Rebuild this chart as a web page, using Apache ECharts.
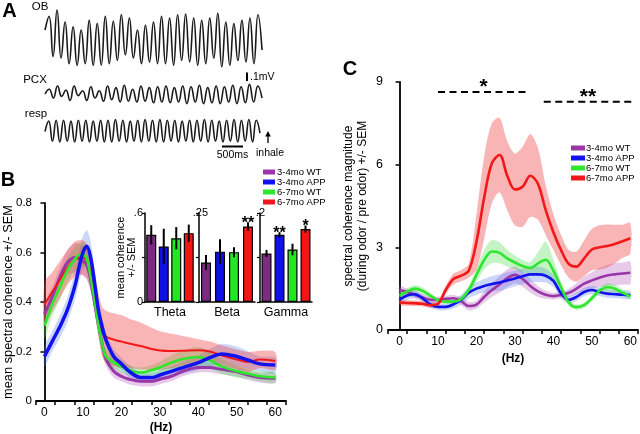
<!DOCTYPE html>
<html><head><meta charset="utf-8">
<script src="https://cdn.jsdelivr.net/npm/echarts@6/dist/echarts.min.js"></script>
<style>html,body{margin:0;padding:0;background:#fff}#c{width:640px;height:434px}</style>
</head><body><div id="c"></div>
<script>
// ---------- DATA ----------
const GROUPS = ['3-4mo WT', '3-4mo APP', '6-7mo WT', '6-7mo APP'];

// Panel A traces (extrema, mV-ish units)
const OB_TRACE = [0.1, 0.27,-0.23, 0.35,-0.25, 0.2,-0.32, 0.14,-0.34, 0.1,-0.32, 0.22,-0.34, 0.18,-0.34, 0.27,-0.32, 0.21,-0.28, 0.29,-0.21, 0.25,-0.25, 0.1,-0.32, 0.16,-0.3, 0.2,-0.32, 0.27,-0.32, 0.25,-0.34, 0.29,-0.28, 0.3,-0.3, 0.25,-0.34, 0.22,-0.32, 0.25,-0.25, 0.31,-0.36, 0.2,-0.34, 0.18,-0.28, 0.22,-0.3, 0.25,-0.32, 0.29,-0.15];
const PCX_TRACE = [0.0, 0.06,-0.05, 0.1,-0.03, 0.05,-0.08, 0.1,-0.02, 0.04,-0.08, 0.09,-0.05, 0.04,-0.09, 0.1,-0.07, 0.08,-0.1, 0.11,-0.09, 0.06,-0.1, 0.1,-0.09, 0.08,-0.11, 0.09,-0.1, 0.1,-0.11, 0.08,-0.1, 0.1,-0.12, 0.09,-0.1, 0.11,-0.12, 0.08,-0.11, 0.1,-0.12, 0.09,-0.1, 0.11,-0.12, 0.09,-0.11, 0.12,-0.1, 0.1,-0.05];
const RESP_TRACE = [0.0, 0.13,-0.12, 0.14,-0.13, 0.14,-0.12, 0.13,-0.13, 0.14,-0.12, 0.14,-0.13, 0.13,-0.12, 0.14,-0.13, 0.14,-0.13, 0.15,-0.12, 0.14,-0.13, 0.13,-0.12, 0.14,-0.13, 0.15,-0.12, 0.14,-0.13, 0.15,-0.13, 0.14,-0.12, 0.14,-0.13, 0.13,-0.12, 0.14,-0.13, 0.14,-0.12, 0.15,-0.13, 0.14,-0.12, 0.13,-0.13, 0.14,-0.12, 0.15,-0.13, 0.14,-0.12, 0.15,-0.13, 0.14,-0.02];

// Panel B: mean spectral coherence
const B_HZ = [0,2,4,6,8,9,10,11,12,13,14,15,16,18,20,22,25,28,30,33,36,40,43,46,50,53,56,60];
const B_WT34      = [0.35,0.42,0.5,0.56,0.58,0.575,0.565,0.55,0.49,0.4,0.31,0.23,0.17,0.12,0.1,0.088,0.08,0.08,0.088,0.1,0.12,0.135,0.135,0.128,0.118,0.105,0.095,0.092];
const B_WT34_SEM  = [0.04,0.04,0.04,0.05,0.06,0.06,0.06,0.06,0.05,0.04,0.03,0.03,0.03,0.025,0.02,0.02,0.02,0.02,0.02,0.02,0.02,0.02,0.02,0.02,0.02,0.02,0.02,0.02];
const B_APP34     = [0.18,0.24,0.3,0.37,0.47,0.54,0.6,0.625,0.58,0.48,0.37,0.3,0.246,0.18,0.15,0.12,0.095,0.095,0.105,0.12,0.135,0.155,0.175,0.19,0.18,0.165,0.15,0.145];
const B_APP34_SEM = [0.04,0.04,0.045,0.05,0.055,0.06,0.065,0.065,0.065,0.05,0.04,0.035,0.03,0.03,0.025,0.025,0.02,0.02,0.02,0.02,0.025,0.03,0.035,0.04,0.04,0.035,0.03,0.03];
const B_WT67      = [0.305,0.39,0.46,0.53,0.575,0.59,0.59,0.575,0.5,0.41,0.31,0.23,0.18,0.155,0.14,0.125,0.115,0.125,0.135,0.155,0.17,0.178,0.165,0.14,0.12,0.11,0.1,0.095];
const B_WT67_SEM  = [0.05,0.05,0.05,0.05,0.05,0.05,0.05,0.05,0.04,0.04,0.035,0.03,0.03,0.025,0.025,0.02,0.02,0.02,0.025,0.03,0.035,0.04,0.035,0.03,0.025,0.02,0.02,0.02];
const B_APP67     = [0.39,0.44,0.49,0.54,0.575,0.58,0.58,0.565,0.52,0.45,0.35,0.28,0.26,0.248,0.24,0.232,0.222,0.21,0.204,0.202,0.203,0.205,0.2,0.185,0.168,0.158,0.168,0.162];
const B_APP67_SEM = [0.09,0.08,0.075,0.07,0.07,0.07,0.07,0.07,0.07,0.08,0.09,0.1,0.105,0.107,0.107,0.1,0.095,0.085,0.078,0.07,0.06,0.045,0.04,0.04,0.04,0.04,0.035,0.035];

// Panel B inset: mean coherence per band
const THETA_MEAN = [0.453,0.374,0.43,0.464];  const THETA_SEM = [0.065,0.12,0.075,0.058];
const BETA_MEAN  = [0.111,0.1415,0.14,0.212]; const BETA_SEM  = [0.021,0.035,0.014,0.012];
const GAMMA_MEAN = [0.109,0.151,0.118,0.164]; const GAMMA_SEM = [0.008,0.006,0.013,0.008];
const THETA_STARS = ['','','',''];
const BETA_STARS  = ['','','','**'];
const GAMMA_STARS = ['','**','','*'];

// Panel C: coherence ratio (during odor / pre odor)
const C_HZ = [0,2,4,6,8,10,12,14,16,18,20,22,24,26,28,30,32,34,36,38,40,42,44,46,48,50,52,54,56,58,60];
const C_WT34      = [1.45,1.38,1.28,1.18,1.1,1.09,1.13,1.15,1.05,0.87,0.92,1.2,1.45,1.65,1.88,2.0,1.85,1.6,1.4,1.28,1.23,1.27,1.35,1.5,1.68,1.8,1.9,1.98,2.02,2.05,2.08];
const C_WT34_SEM  = [0.15,0.12,0.12,0.12,0.12,0.12,0.12,0.12,0.15,0.15,0.15,0.2,0.25,0.3,0.32,0.3,0.28,0.25,0.2,0.15,0.12,0.12,0.15,0.2,0.25,0.3,0.35,0.38,0.4,0.4,0.4];
const C_APP34     = [1.1,1.25,1.3,1.15,0.93,0.84,0.84,0.93,1.1,1.35,1.5,1.6,1.67,1.72,1.8,1.87,1.95,2.02,2.02,1.97,1.78,1.33,1.1,1.2,1.38,1.45,1.38,1.32,1.3,1.28,1.27];
const C_APP34_SEM = [0.15,0.15,0.15,0.12,0.12,0.12,0.12,0.15,0.18,0.2,0.22,0.25,0.28,0.3,0.3,0.28,0.28,0.28,0.28,0.25,0.22,0.18,0.15,0.15,0.15,0.15,0.15,0.15,0.15,0.15,0.15];
const C_WT67      = [1.25,1.4,1.5,1.42,1.25,1.08,1.03,1.03,1.12,1.45,2.0,2.54,2.85,2.8,2.6,2.45,2.32,2.25,2.42,2.55,2.15,1.55,1.0,0.83,0.9,1.15,1.43,1.55,1.5,1.35,1.22];
const C_WT67_SEM  = [0.12,0.12,0.12,0.12,0.1,0.08,0.08,0.08,0.1,0.15,0.25,0.35,0.42,0.38,0.3,0.25,0.22,0.22,0.4,0.65,0.4,0.2,0.12,0.1,0.1,0.1,0.12,0.15,0.15,0.12,0.1];
const C_APP67     = [1.0,0.98,0.97,0.95,0.9,0.95,1.45,1.85,1.97,2.15,3.2,4.8,6.05,6.35,5.6,5.1,5.2,5.6,5.3,4.35,3.55,2.9,2.4,2.3,2.6,2.92,3.0,3.05,3.12,3.22,3.33];
const C_APP67_SEM = [0.1,0.1,0.1,0.1,0.1,0.1,0.15,0.2,0.2,0.25,1.0,1.5,1.45,1.35,1.25,1.3,1.45,1.5,1.3,0.9,0.65,0.55,0.5,0.55,0.65,0.75,0.8,0.78,0.7,0.6,0.55];

// significance bars in C: [from Hz, to Hz, level]
const SIG_BARS  = [[10, 33.7, 8.64], [37.5, 60.5, 8.28]];
const SIG_MARKS = ['*', '**'];

// ---------- STYLE ----------
const FONT = '"Liberation Sans", Arial, sans-serif';
const LINE_COLORS = ['#9A36A8', '#1212EE', '#2EE62E', '#F01818'];
const BAR_COLORS  = ['#7B2C82', '#1010E8', '#22E822', '#F41414'];
const BAND_COLORS = ['rgba(175,80,185,0.3)', 'rgba(80,120,240,0.3)', 'rgba(60,220,60,0.3)', 'rgba(240,60,60,0.38)'];

const chart = echarts.init(document.getElementById('c'), null, {renderer: 'canvas'});

function traceSeries(idx, arr) {
  return {type:'line', xAxisIndex:idx, yAxisIndex:idx, data: arr.map((v,i)=>[i,v]),
    smooth:0.5, symbol:'none', silent:true, lineStyle:{color:'#1a1a1a', width:1.6}};
}
function band(idx, xs, mean, sem, color) {
  return {type:'custom', xAxisIndex:idx, yAxisIndex:idx, z:1, silent:true,
    data: xs.map((x,i)=>[x, mean[i]-sem[i], mean[i]+sem[i]]), encode:{x:0, y:[1,2]},
    renderItem:(params, api)=>{
      if (params.dataIndex !== 0) return null;
      const up = xs.map((x,i)=>api.coord([x, mean[i]+sem[i]]));
      const lo = xs.map((x,i)=>api.coord([x, mean[i]-sem[i]])).reverse();
      return {type:'polygon', shape:{points: up.concat(lo), smooth:0.3}, style:{fill:color}};
    }};
}
function curve(idx, name, xs, ys, color, width, z) {
  return {type:'line', name, xAxisIndex:idx, yAxisIndex:idx, smooth:0.35, symbol:'none', silent:true, z,
    data: xs.map((x,i)=>[x, ys[i]]), lineStyle:{color, width}, itemStyle:{color}};
}
function barSeries(idx, mean) {
  return {type:'bar', xAxisIndex:idx, yAxisIndex:idx, barWidth:10, silent:true, z:3,
    data: mean.map((m,i)=>({value:m, itemStyle:{color:BAR_COLORS[i], borderColor:'#000', borderWidth:1.2}}))};
}
function errSeries(idx, mean, sem, stars) {
  return {type:'custom', xAxisIndex:idx, yAxisIndex:idx, z:6, silent:true,
    data: mean.map((m,i)=>[i, m-sem[i], m+sem[i]]), encode:{x:0, y:[1,2]},
    renderItem:(params, api)=>{
      const i = api.value(0);
      const lo = api.coord([i, api.value(1)]), hi = api.coord([i, api.value(2)]);
      const ch = [{type:'line', shape:{x1:lo[0],y1:lo[1],x2:hi[0],y2:hi[1]}, style:{stroke:'#000', lineWidth:2}}];
      const s = stars[params.dataIndex];
      if (s) ch.push({type:'text', x:hi[0], y:hi[1]+1, style:{text:s, font:'bold 16px '+FONT, fill:'#000',
        align:'center', verticalAlign:'middle', textAlign:'center', textVerticalAlign:'middle'}});
      return {type:'group', children:ch};
    }};
}
function hiddenAxis(gi, min, max) {
  return {gridIndex:gi, type:'value', min, max, show:false, splitLine:{show:false}};
}
const tickRange = (a, step, n) => Array.from({length:n}, (_, k) => +(a + k*step).toFixed(3));
const AX_LINE = {lineStyle:{color:'#000', width:1.8}};

function insetX(gi, name) {
  return {gridIndex:gi, type:'category', data:[0,1,2,3], axisLine:{lineStyle:{color:'#000', width:1.5}},
    axisTick:{show:false}, axisLabel:{show:false}, splitLine:{show:false},
    name, nameLocation:'middle', nameGap:4, nameTextStyle:{color:'#000', fontSize:12.5, fontFamily:FONT, verticalAlign:'top'}};
}
function insetY(gi, max, labelVals, fmt, margin, extra) {
  return Object.assign({gridIndex:gi, type:'value', min:0, max, axisLine:{show:true, lineStyle:{color:'#000', width:1.5}},
    axisTick:{show:true, customValues:[0, max/2, max], length:3, lineStyle:{color:'#000', width:1.2}},
    axisLabel:{customValues:labelVals, formatter:fmt, color:'#000', fontSize:11, margin, fontFamily:FONT},
    splitLine:{show:false}}, extra || {});
}

const series = [];
series.push(traceSeries(0, OB_TRACE), traceSeries(1, PCX_TRACE), traceSeries(2, RESP_TRACE));

const B_SETS = [[B_WT34,B_WT34_SEM],[B_APP34,B_APP34_SEM],[B_WT67,B_WT67_SEM],[B_APP67,B_APP67_SEM]];
const C_SETS = [[C_WT34,C_WT34_SEM],[C_APP34,C_APP34_SEM],[C_WT67,C_WT67_SEM],[C_APP67,C_APP67_SEM]];
B_SETS.forEach((s,i)=>series.push(band(3, B_HZ, s[0], s[1], BAND_COLORS[i])));
C_SETS.forEach((s,i)=>series.push(band(7, C_HZ, s[0], s[1], BAND_COLORS[i])));
const B_W = [3, 3.5, 2.6, 2];
[0,3,2,1].forEach(i=>series.push(curve(3, GROUPS[i], B_HZ, B_SETS[i][0], LINE_COLORS[i], B_W[i], 4)));
[0,1,2,3].forEach(i=>series.push(curve(7, GROUPS[i], C_HZ, C_SETS[i][0], LINE_COLORS[i], 2.6, 4)));

series.push(barSeries(4, THETA_MEAN), errSeries(4, THETA_MEAN, THETA_SEM, THETA_STARS));
series.push(barSeries(5, BETA_MEAN),  errSeries(5, BETA_MEAN, BETA_SEM, BETA_STARS));
series.push(barSeries(6, GAMMA_MEAN), errSeries(6, GAMMA_MEAN, GAMMA_SEM, GAMMA_STARS));

series.push({type:'custom', xAxisIndex:7, yAxisIndex:7, z:6, silent:true, data:SIG_BARS, encode:{x:[0,1], y:2},
  renderItem:(params, api)=>{
    const p1 = api.coord([api.value(0), api.value(2)]), p2 = api.coord([api.value(1), api.value(2)]);
    return {type:'group', children:[
      {type:'line', shape:{x1:p1[0],y1:p1[1],x2:p2[0],y2:p2[1]}, style:{stroke:'#000', lineWidth:2, lineDash:[7,4.5]}},
      {type:'text', x:(p1[0]+p2[0])/2, y:p1[1]-5, style:{text:SIG_MARKS[params.dataIndex], font:'bold 21px '+FONT, fill:'#000',
        align:'center', verticalAlign:'middle', textAlign:'center', textVerticalAlign:'middle'}}
    ]};
  }});

const option = {
  animation:false,
  backgroundColor:'#fff',
  textStyle:{fontFamily:FONT, color:'#000'},
  grid:[
    {left:45, top:8,   width:217, height:60, outerBoundsMode:'none'},
    {left:45, top:79,  width:217, height:30, outerBoundsMode:'none'},
    {left:45, top:116.5, width:215, height:30, outerBoundsMode:'none'},
    {left:36, top:203, width:250, height:198, outerBoundsMode:'none'},
    {left:145, top:213, width:50, height:89, outerBoundsMode:'none'},
    {left:199, top:213, width:56, height:89, outerBoundsMode:'none'},
    {left:260, top:213, width:52, height:89, outerBoundsMode:'none'},
    {left:388, top:82, width:250, height:248, outerBoundsMode:'none'}
  ],
  xAxis:[
    hiddenAxis(0, 0, OB_TRACE.length-1),
    hiddenAxis(1, 0, PCX_TRACE.length-1),
    hiddenAxis(2, 0, RESP_TRACE.length-1),
    {gridIndex:3, type:'value', min:-2.2, max:62.8, axisLine:AX_LINE,
     axisTick:{customValues:tickRange(-2.2,5,14), length:4, lineStyle:{color:'#000', width:1.5}},
     axisLabel:{customValues:[0,10,20,30,40,50,60], color:'#000', fontSize:12, margin:6},
     splitLine:{show:false}, name:'(Hz)', nameLocation:'middle', nameGap:21,
     nameTextStyle:{fontWeight:'bold', fontSize:12, color:'#000', verticalAlign:'top'}},
    insetX(4,'Theta'), insetX(5,'Beta'), insetX(6,'Gamma'),
    {gridIndex:7, type:'value', min:-3, max:62, axisLine:AX_LINE,
     axisTick:{customValues:tickRange(-3,5,14), length:4, lineStyle:{color:'#000', width:1.5}},
     axisLabel:{customValues:[0,10,20,30,40,50,60], color:'#000', fontSize:12, margin:6},
     splitLine:{show:false}, name:'(Hz)', nameLocation:'middle', nameGap:21,
     nameTextStyle:{fontWeight:'bold', fontSize:12, color:'#000', verticalAlign:'top'}}
  ],
  yAxis:[
    hiddenAxis(0, -0.375, 0.375),
    hiddenAxis(1, -0.1875, 0.1875),
    hiddenAxis(2, -0.1875, 0.1875),
    {gridIndex:3, type:'value', min:0, max:0.8, interval:0.2, axisLine:{show:true, lineStyle:{color:'#000', width:1.8}},
     axisTick:{show:true, length:4, lineStyle:{color:'#000', width:1.5}},
     axisLabel:{color:'#000', fontSize:11.5, margin:4, formatter:v=>v===0?'0':v.toFixed(1)},
     splitLine:{show:false}, name:'mean spectral coherence +/- SEM', nameLocation:'middle', nameGap:21, nameMoveOverlap:false,
     nameTextStyle:{fontSize:12.8, color:'#000'}},
    insetY(4, 0.6, [0, 0.6], v=>v===0?'0':'.6', 2,
      {name:'mean coherence\n+/- SEM', nameLocation:'middle', nameGap:8, nameMoveOverlap:false, nameTextStyle:{fontSize:11, lineHeight:11, color:'#000'}}),
    insetY(5, 0.25, [0.25], ()=>'.25', -9),
    insetY(6, 0.2, [0.2], ()=>'.2', -5),
    {gridIndex:7, type:'value', min:0, max:9, interval:3, axisLine:{show:true, lineStyle:{color:'#000', width:1.8}},
     axisTick:{show:true, length:4, lineStyle:{color:'#000', width:1.5}},
     axisLabel:{color:'#000', fontSize:12.5, margin:5},
     splitLine:{show:false}, name:'spectral coherence magnitude\n(during odor / pre odor) +/- SEM', nameLocation:'middle', nameGap:18,
     nameTextStyle:{fontSize:12, lineHeight:14, color:'#000'}}
  ],
  legend:[
    {data:GROUPS, left:263, top:167, orient:'vertical', icon:'rect', itemWidth:12, itemHeight:5, itemGap:0, padding:0,
     selectedMode:false, textStyle:{fontSize:9.5, lineHeight:8, color:'#000', padding:[0,0,0,-3]}},
    {data:GROUPS, left:571, top:143, orient:'vertical', icon:'rect', itemWidth:14, itemHeight:5, itemGap:0, padding:0,
     selectedMode:false, textStyle:{fontSize:9.5, lineHeight:10, color:'#000', padding:[0,0,0,-4]}}
  ],
  graphic:[
    {type:'text', x:9.5, y:11.5, style:{text:'A', font:'bold 20px '+FONT, fill:'#000', align:'center', verticalAlign:'middle', textAlign:'center', textVerticalAlign:'middle'}},
    {type:'text', x:8, y:180, style:{text:'B', font:'bold 20px '+FONT, fill:'#000', align:'center', verticalAlign:'middle', textAlign:'center', textVerticalAlign:'middle'}},
    {type:'text', x:350, y:69, style:{text:'C', font:'bold 20px '+FONT, fill:'#000', align:'center', verticalAlign:'middle', textAlign:'center', textVerticalAlign:'middle'}},
    {type:'text', x:40, y:6.5, style:{text:'OB', font:'11.5px '+FONT, fill:'#000', align:'center', verticalAlign:'middle', textAlign:'center', textVerticalAlign:'middle'}},
    {type:'text', x:35, y:80, style:{text:'PCX', font:'11.5px '+FONT, fill:'#000', align:'center', verticalAlign:'middle', textAlign:'center', textVerticalAlign:'middle'}},
    {type:'text', x:36, y:114, style:{text:'resp', font:'11.5px '+FONT, fill:'#000', align:'center', verticalAlign:'middle', textAlign:'center', textVerticalAlign:'middle'}},
    {type:'line', shape:{x1:247, y1:72.5, x2:247, y2:81}, style:{stroke:'#000', lineWidth:2}},
    {type:'text', x:250, y:77.5, style:{text:'.1mV', font:'10.5px '+FONT, fill:'#000', align:'left', verticalAlign:'middle', textAlign:'left', textVerticalAlign:'middle'}},
    {type:'line', shape:{x1:222, y1:146.5, x2:243, y2:146.5}, style:{stroke:'#000', lineWidth:2}},
    {type:'text', x:232.5, y:155.5, style:{text:'500ms', font:'10.5px '+FONT, fill:'#000', align:'center', verticalAlign:'middle', textAlign:'center', textVerticalAlign:'middle'}},
    {type:'line', shape:{x1:268, y1:143, x2:268, y2:134}, style:{stroke:'#000', lineWidth:1.3}},
    {type:'polygon', shape:{points:[[265.2,136.5],[268,131],[270.8,136.5]]}, style:{fill:'#000'}},
    {type:'text', x:270, y:153.5, style:{text:'inhale', font:'10.5px '+FONT, fill:'#000', align:'center', verticalAlign:'middle', textAlign:'center', textVerticalAlign:'middle'}}
  ],
  series
};
chart.setOption(option);
</script></body></html>
